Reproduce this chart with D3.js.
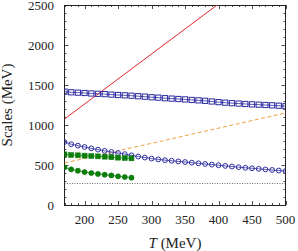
<!DOCTYPE html>
<html lang="en">
<head>
    <meta charset="UTF-8">
    <title>Scales vs T</title>
    <script src="https://cdn.jsdelivr.net/npm/d3@7"></script>
    <style>
        body { margin: 0; background: #fff; }
        svg text { font-family: "Liberation Serif", "DejaVu Serif", serif; fill: #222; }
    </style>
</head>
<body>
<script>
    // temperatures (MeV)
    const tFull = d3.range(170, 501, 10);
    const tShort = d3.range(170, 271, 10);

    // blue open squares
    const blueSquares = [1417, 1409, 1404, 1400, 1394, 1390, 1386, 1380, 1375, 1371,
        1366, 1360, 1354, 1347, 1342, 1335, 1330, 1325, 1320, 1313,
        1308, 1302, 1294, 1286, 1279, 1273, 1268, 1263, 1258, 1254,
        1250, 1246, 1241, 1235];
    // blue open circles
    const blueCircles = [787, 760, 742, 725, 708, 692, 677, 663, 650, 636,
        621, 606, 593, 580, 570, 561, 553, 545, 537, 529,
        521, 513, 505, 497, 489, 481, 473, 465, 459, 452,
        445, 438, 431, 424];
    // green filled squares / circles
    const greenSquares = [633, 625, 621, 617, 612, 608, 604, 597, 592, 587, 583];
    const greenCircles = [471, 446, 429, 412, 400, 388, 379, 370, 359, 350, 342];

    // straight lines: [T, value]
    const redLine = [[170, 1075], [400, 2513]];
    const orangeLine = [[170, 525], [500, 1150]];
    const grayLevel = 268;

    const xTicks = [200, 250, 300, 350, 400, 450, 500];
    const yTicks = [0, 500, 1000, 1500, 2000, 2500];

    const W = 298, H = 251;
    const mLeft = 64.5, mRight = 285.5, mTop = 5, mBottom = 205;

    const x = d3.scaleLinear().domain([170, 500]).range([mLeft, mRight]);
    const y = d3.scaleLinear().domain([0, 2500]).range([mBottom, mTop]);

    const svg = d3.select("body").append("svg").attr("width", W).attr("height", H);

    svg.append("clipPath").attr("id", "clip")
        .append("rect").attr("x", mLeft).attr("y", mTop)
        .attr("width", mRight - mLeft).attr("height", mBottom - mTop);

    // ticks (inward, mirrored)
    const minorX = d3.range(170, 501, 10), minorY = d3.range(0, 2501, 100);
    const tk = svg.append("g").attr("stroke", "#222").attr("stroke-width", 0.8);
    minorX.forEach(v => {
        const len = v % 50 === 0 ? 4 : 2;
        const px = Math.round(x(v)) + 0.5;
        tk.append("line").attr("x1", px).attr("x2", px).attr("y1", mBottom).attr("y2", mBottom - len);
        tk.append("line").attr("x1", px).attr("x2", px).attr("y1", mTop).attr("y2", mTop + len);
    });
    minorY.forEach(v => {
        const len = v % 500 === 0 ? 4 : 2;
        const py = Math.round(y(v)) + 0.5;
        tk.append("line").attr("y1", py).attr("y2", py).attr("x1", mLeft).attr("x2", mLeft + len);
        tk.append("line").attr("y1", py).attr("y2", py).attr("x1", mRight).attr("x2", mRight - len);
    });

    svg.append("rect").attr("x", mLeft).attr("y", mTop + 0.5)
        .attr("width", mRight - mLeft).attr("height", mBottom - mTop)
        .attr("fill", "none").attr("stroke", "#222").attr("stroke-width", 1);

    // tick labels
    svg.append("g").selectAll("text").data(xTicks).join("text")
        .attr("x", d => x(d)).attr("y", 224)
        .attr("text-anchor", "middle").attr("font-size", 13)
        .text(d => d);
    svg.append("g").selectAll("text").data(yTicks).join("text")
        .attr("x", 54).attr("y", d => y(d) + 4.5)
        .attr("text-anchor", "end").attr("font-size", 13)
        .text(d => d);

    // axis titles
    const xt = svg.append("text").attr("x", (mLeft + mRight) / 2).attr("y", 248)
        .attr("text-anchor", "middle").attr("font-size", 15);
    xt.append("tspan").attr("font-style", "italic").text("T");
    xt.append("tspan").text(" (MeV)");
    svg.append("text").attr("transform", `translate(12,${(mTop + mBottom) / 2}) rotate(-90)`)
        .attr("text-anchor", "middle").attr("font-size", 15)
        .text("Scales (MeV)");

    const plot = svg.append("g").attr("clip-path", "url(#clip)");
    const line = d3.line().x(d => x(d[0])).y(d => y(d[1]));

    // gray dotted level
    plot.append("path").datum([[170, grayLevel], [500, grayLevel]])
        .attr("d", line).attr("fill", "none").attr("stroke", "#555")
        .attr("stroke-width", 0.9).attr("stroke-dasharray", "1,1.5");

    plot.append("path").datum(redLine).attr("d", line)
        .attr("fill", "none").attr("stroke", "#e0262c").attr("stroke-width", 1);
    plot.append("path").datum(orangeLine).attr("d", line)
        .attr("fill", "none").attr("stroke", "#f0a040").attr("stroke-width", 1)
        .attr("stroke-dasharray", "4,2.5");

    const blue = "#2c2ca0", green = "#0b7d0b";

    function series(ts, vals, color, shape, filled) {
        const pts = ts.map((t, i) => [t, vals[i]]);
        plot.append("path").datum(pts).attr("d", line)
            .attr("fill", "none").attr("stroke", color).attr("stroke-width", 0.8);
        const g = plot.append("g");
        if (shape === "square") {
            const s = filled ? 5 : 5.2;
            g.selectAll("rect").data(pts).join("rect")
                .attr("x", d => x(d[0]) - s / 2).attr("y", d => y(d[1]) - s / 2)
                .attr("width", s).attr("height", s)
                .attr("fill", filled ? color : "none")
                .attr("stroke", color).attr("stroke-width", filled ? 0.5 : 1);
        } else {
            g.selectAll("circle").data(pts).join("circle")
                .attr("cx", d => x(d[0])).attr("cy", d => y(d[1]))
                .attr("r", filled ? 2.6 : 2.4)
                .attr("fill", filled ? color : "none")
                .attr("stroke", color).attr("stroke-width", filled ? 0.5 : 1);
        }
    }

    series(tFull, blueSquares, blue, "square", false);
    series(tFull, blueCircles, blue, "circle", false);
    series(tShort, greenSquares, green, "square", true);
    series(tShort, greenCircles, green, "circle", true);
</script>
</body>
</html>
